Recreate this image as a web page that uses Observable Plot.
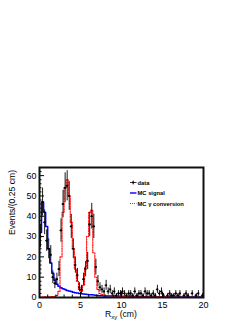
<!DOCTYPE html>
<html><head><meta charset="utf-8">
<script src="https://cdn.jsdelivr.net/npm/d3@7"></script>
<script src="https://cdn.jsdelivr.net/npm/@observablehq/plot@0.6"></script>
<style>
body{margin:0;background:#fff;}
#chart svg{display:block;}
</style>
</head><body><div id="chart"></div>
<script>
// ---- data (80 bins of 0.25 cm from 0 to 20 cm) ----
const binWidth = 0.25;
const dataCounts = [
  30, 47, 37, 28, 24, 21, 10, 7, 9, 14,
  33, 46, 54, 55, 50, 35, 24, 16, 11, 5,
  4, 9, 14, 18, 36, 40, 35, 15, 8, 5,
  4, 3, 6, 3, 4, 2, 3, 1, 2, 2,
  3, 2, 1, 2, 2, 1, 3, 1, 2, 2,
  1, 3, 2, 2, 1, 2, 1, 4, 2, 3,
  1, 0, 1, 2, 1, 1, 2, 1, 2, 0,
  1, 2, 1, 0, 2, 0, 1, 2, 0, 1
];
const mcSignal = [
  32, 47, 42, 35, 24, 17, 12, 8.5, 6.5, 5.5,
  4.8, 4.3, 3.9, 3.5, 3.2, 2.9, 2.6, 2.4, 2.2, 2.0,
  1.9, 1.7, 1.6, 1.5, 1.4, 1.3, 1.2, 1.1, 1.0, 0.9,
  0.9, 0.8, 0.8, 0.8, 0.7, 0.7, 0.7, 0.6, 0.6, 0.6,
  0.6, 0.5, 0.5, 0.5, 0.5, 0.5, 0.5, 0.4, 0.4, 0.4,
  0.4, 0.4, 0.4, 0.4, 0.4, 0.3, 0.3, 0.3, 0.3, 0.3,
  0.3, 0.3, 0.3, 0.3, 0.3, 0.3, 0.3, 0.3, 0.3, 0.3,
  0.3, 0.3, 0.3, 0.3, 0.3, 0.3, 0.3, 0.3, 0.3, 0.3
];
const mcConversion = [
  0.2, 0.2, 0.3, 0.3, 0.3, 0.4, 0.5, 0.6, 1.0, 3,
  20, 42, 54, 58, 50, 37, 24, 14, 8, 4,
  3, 6, 15, 30, 42, 43, 22, 10, 4, 2,
  1.5, 1.2, 1.0, 0.9, 0.8, 0.8, 0.7, 0.7, 0.6, 0.6,
  0.5, 0.5, 0.5, 0.5, 0.5, 0.4, 0.4, 0.4, 0.4, 0.4,
  0.4, 0.4, 0.3, 0.3, 0.3, 0.3, 0.3, 0.3, 0.3, 0.3,
  0.3, 0.3, 0.3, 0.3, 0.3, 0.2, 0.2, 0.2, 0.2, 0.2,
  0.2, 0.2, 0.2, 0.2, 0.2, 0.2, 0.2, 0.2, 0.2, 0.2
];
const xTicks = [0, 5, 10, 15, 20];
const xMinorTicks = [1, 2, 3, 4, 6, 7, 8, 9, 11, 12, 13, 14, 16, 17, 18, 19];
const yTicks = [0, 10, 20, 30, 40, 50, 60];
const yMinorTicks = [2, 4, 6, 8, 12, 14, 16, 18, 22, 24, 26, 28, 32, 34, 36, 38, 42, 44, 46, 48, 52, 54, 56, 58, 62];
const legendItems = ["data", "MC signal", "MC \u03b3 conversion"];

// ---- derived tables ----
function steps(values) {
  const out = [];
  values.forEach((v, i) => {
    out.push({x: i * binWidth, y: v});
    out.push({x: (i + 1) * binWidth, y: v});
  });
  return out;
}
const points = dataCounts.map((v, i) => ({
  lo: i * binWidth, hi: (i + 1) * binWidth, x: (i + 0.5) * binWidth, y: v,
  e1: v - Math.sqrt(v), e2: v + Math.sqrt(v)
})).filter(d => d.y > 0);

const W = 249, H = 323, ML = 39, MR = 46, MT = 167, MB = 26;
const innerW = W - ML - MR, innerH = H - MT - MB;
const font = "'Liberation Sans', Arial, Helvetica, sans-serif";

const plot = Plot.plot({
  width: W, height: H,
  marginLeft: ML, marginRight: MR, marginTop: MT, marginBottom: MB,
  style: {fontFamily: font, fontSize: "9px", color: "#000", background: "#fff"},
  x: {domain: [0, 20]},
  y: {domain: [0, 64]},
  marks: [
    Plot.line(steps(mcSignal), {x: "x", y: "y", stroke: "#0000ff", strokeWidth: 1.5, clip: true}),
    Plot.line(steps(mcConversion), {x: "x", y: "y", stroke: "#ff0000", strokeWidth: 1.1, strokeDasharray: "1.4,1.2", clip: true}),
    Plot.ruleX(points, {x: "x", y1: "e1", y2: "e2", stroke: "#000", strokeWidth: 0.9, clip: true}),
    Plot.ruleY(points, {y: "y", x1: "lo", x2: "hi", stroke: "#000", strokeWidth: 0.9, clip: true}),
    Plot.dot(points, {x: "x", y: "y", r: 1.1, fill: "#000", stroke: null, clip: true}),
    Plot.tickY(yTicks, {y: d => d, stroke: "#000", insetRight: innerW - 5}),
    Plot.tickY(yMinorTicks, {y: d => d, stroke: "#000", insetRight: innerW - 2.5}),
    Plot.tickX(xTicks, {x: d => d, stroke: "#000", insetTop: innerH - 5}),
    Plot.tickX(xMinorTicks, {x: d => d, stroke: "#000", insetTop: innerH - 2.5}),
    Plot.axisY(yTicks, {tickSize: 0, tickPadding: 3, label: null, fontSize: 9}),
    Plot.axisX(xTicks, {tickSize: 0, tickPadding: 4, label: null, fontSize: 9}),
    Plot.frame({stroke: "#111", strokeWidth: 2})
  ]
});
document.getElementById("chart").appendChild(plot);

const svg = d3.select(plot);
// y-axis title
svg.append("text")
  .attr("transform", "translate(14.5,170) rotate(-90)")
  .attr("text-anchor", "end")
  .attr("font-family", font).attr("font-size", 8.6).attr("fill", "#000")
  .text("Events/(0.25 cm)");
// x-axis title with subscript
const xt = svg.append("text")
  .attr("x", 121).attr("y", 317)
  .attr("text-anchor", "middle")
  .attr("font-family", font).attr("font-size", 8.6).attr("fill", "#000");
xt.append("tspan").text("R");
xt.append("tspan").attr("font-size", 6).attr("dy", 2).text("xy");
xt.append("tspan").attr("dy", -2).text(" (cm)");

// legend
const lg = svg.append("g").attr("font-family", font).attr("font-size", 5.8).attr("font-weight", "bold").attr("fill", "#000").attr("text-anchor", "start");
legendItems.forEach((label, i) => {
  const y = 182.5 + i * 10.5;
  const g = lg.append("g");
  if (i === 0) {
    g.append("line").attr("x1", 130).attr("x2", 136.5).attr("y1", y).attr("y2", y).attr("stroke", "#000").attr("stroke-width", 0.8);
    g.append("line").attr("x1", 133.2).attr("x2", 133.2).attr("y1", y - 2).attr("y2", y + 2).attr("stroke", "#000").attr("stroke-width", 0.8);
    g.append("circle").attr("cx", 133.2).attr("cy", y).attr("r", 1.1).attr("fill", "#000");
  } else if (i === 1) {
    g.append("line").attr("x1", 130).attr("x2", 136.5).attr("y1", y).attr("y2", y).attr("stroke", "#0000ff").attr("stroke-width", 1.4);
  } else {
    g.append("line").attr("x1", 130).attr("x2", 136.5).attr("y1", y).attr("y2", y).attr("stroke", "#ff2020").attr("stroke-width", 1.2).attr("stroke-dasharray", "1,1");
  }
  g.append("text").attr("x", 137.5).attr("y", y + 2).attr("text-anchor", "start").text(label);
});
</script>
</body></html>
